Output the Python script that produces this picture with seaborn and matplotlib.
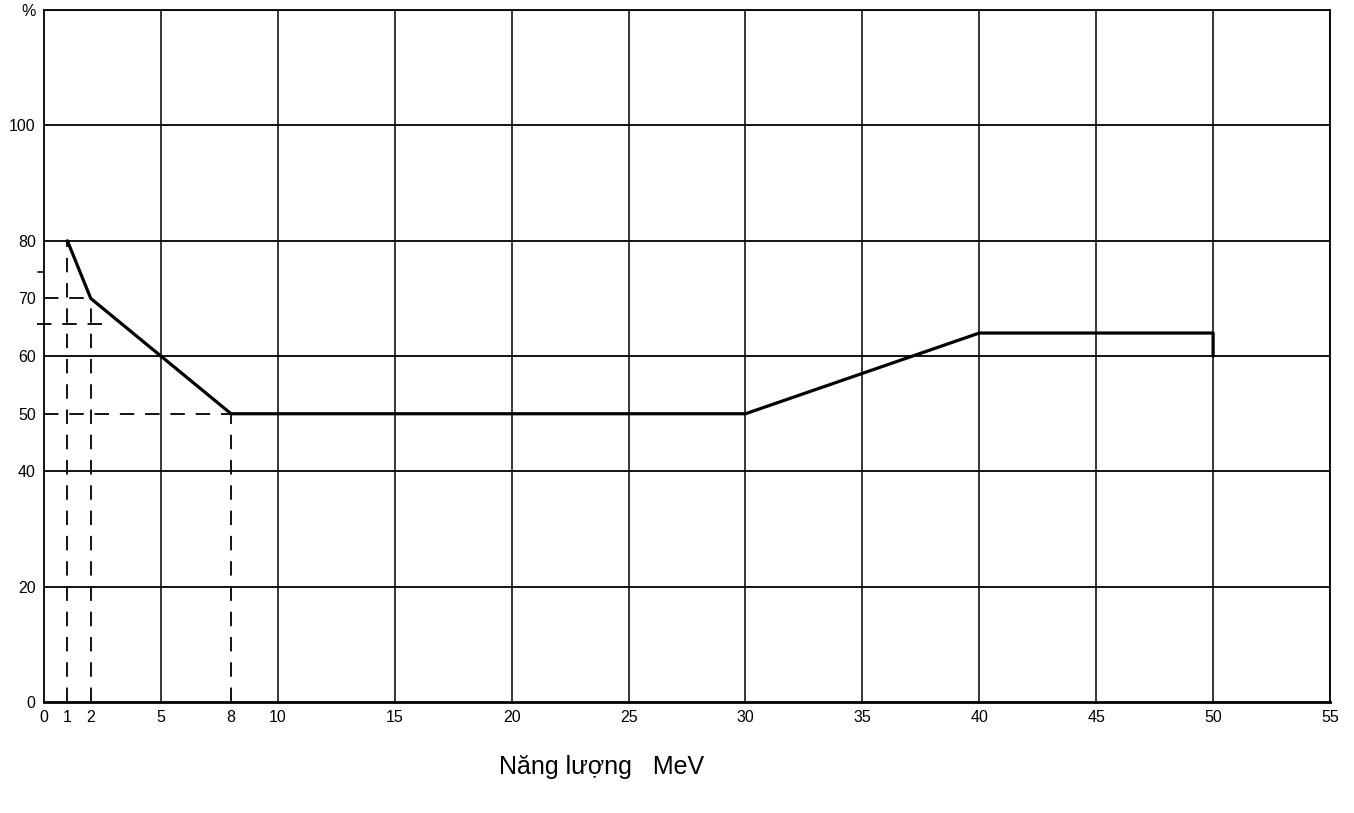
import pandas as pd
import matplotlib
matplotlib.use("Agg")
import matplotlib.pyplot as plt
import seaborn as sns

#styling...
sns.set_style("white")
plt.rcParams['font.family'] = ['Liberation Sans', 'DejaVu Sans']

#curve data (energy MeV -> %)...
energy = [1, 2, 5, 8, 30, 40, 50, 50]
percent = [80, 70, 60, 50, 50, 64, 64, 60]

x_ticks = [0, 1, 2, 5, 8, 10, 15, 20, 25, 30, 35, 40, 45, 50, 55]
y_ticks = [0, 20, 40, 50, 60, 70, 80, 100, 120]
y_labels = ["0", "20", "40", "50", "60", "70", "80", "100", "%"]
x_grid = [5, 10, 15, 20, 25, 30, 35, 40, 45, 50, 55]
y_grid = [20, 40, 60, 80, 100, 120]

df = pd.DataFrame({"energy": energy, "percent": percent})

fig = plt.figure(figsize=(13.54, 8.13), dpi=100)
ax = fig.add_axes([0.0325, 0.1365, 0.9498, 0.851])

#grid...
for gx in x_grid:
    ax.axvline(gx, color="black", lw=1.1, zorder=1)
for gy in y_grid:
    ax.axhline(gy, color="black", lw=1.3, zorder=1)

#dashed guides...
dash = dict(color="black", lw=1.3, ls=(0, (8, 6)), zorder=2)
ax.plot([0, 8], [50, 50], **dash)
ax.plot([8, 8], [0, 50], **dash)
ax.plot([1, 1], [0, 80], **dash)
ax.plot([2, 2], [0, 70], **dash)
ax.plot([0, 2], [70, 70], **dash)
ax.plot([-0.3, 2.6], [65.5, 65.5], clip_on=False, **dash)
# small mark left of the axis near 75
ax.plot([-0.25, 0], [74.5, 74.5], color="black", lw=1.2, clip_on=False)

#main curve (no aggregation, keep the drop at 50)...
sns.lineplot(x="energy", y="percent", data=df, sort=False, estimator=None,
             color="black", lw=2.3, ax=ax, zorder=3)

ax.set_xlim(0, 55)
ax.set_ylim(0, 120)
ax.set_xticks(x_ticks)
ax.set_xticklabels([str(t) for t in x_ticks])
ax.set_yticks(y_ticks)
ax.set_yticklabels(y_labels)
ax.tick_params(axis="both", length=0, labelsize=11.5, pad=6, labelcolor="black")
for s in ax.spines.values():
    s.set_color("black")
    s.set_linewidth(1.3)
ax.spines["bottom"].set_linewidth(2)
ax.set_xlabel("")
ax.set_ylabel("")

fig.text(0.444, 0.056, "Năng lượng   MeV", fontsize=18, ha="center", va="center",
         color="black")

plt.savefig("out.png", dpi=100)
